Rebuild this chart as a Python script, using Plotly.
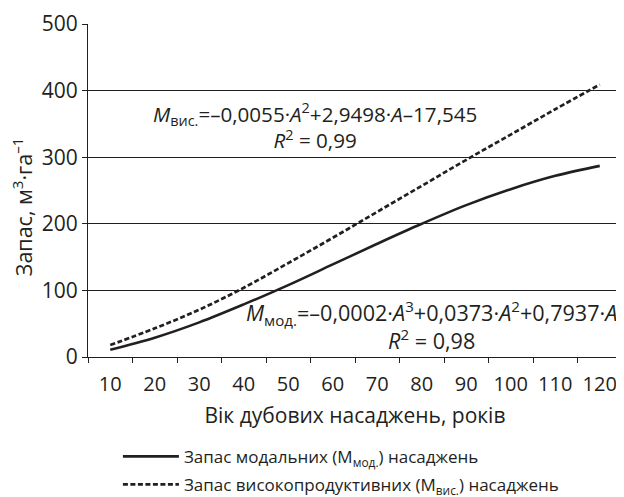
import plotly.graph_objects as go

ages = ["10", "20", "30", "40", "50", "60", "70", "80", "90", "100", "110", "120"]
modal = [11, 29, 52, 79, 108, 139, 170, 200, 228, 252, 272, 287]
high = [18, 43, 71, 104, 141, 179, 218, 257, 296, 334, 372, 409]

name_modal = "Запас модальних (M<sub>мод.</sub>) насаджень"
name_high = "Запас високопродуктивних (M<sub>вис.</sub>) насаджень"
eq_high = "<i>M</i><sub>вис.</sub>=–0,0055·<i>A</i><sup>2</sup>+2,9498·<i>A</i>–17,545<br><i>R</i><sup>2</sup> = 0,99"
eq_modal = "<i>M</i><sub>мод.</sub>=–0,0002·<i>A</i><sup>3</sup>+0,0373·<i>A</i><sup>2</sup>+0,7937·<i>A</i><br><i>R</i><sup>2</sup> = 0,98"
y_title = "Запас, м<sup>3</sup>·га<sup>–1</sup>"
x_title = "Вік дубових насаджень, років"

FONT = "Open Sans"
INK = "#231f20"

fig = go.Figure()
fig.add_trace(go.Scatter(x=ages, y=modal, mode="lines", name=name_modal, legendgroup="a",
                         line=dict(color=INK, width=2.6, shape="spline")))
fig.add_trace(go.Scatter(x=ages, y=high, mode="lines", name=name_high, legendgroup="b",
                         line=dict(color=INK, width=2.7, dash="5px,2.5px", shape="spline")))

fig.add_annotation(x=4.6, y=347, xref="x", yref="y", text=eq_high, showarrow=False,
                   align="center", font=dict(family=FONT, size=20.6, color=INK))
fig.add_annotation(x=7.23, y=48, xref="x", yref="y", text=eq_modal, showarrow=False,
                   align="center", font=dict(family=FONT, size=21.6, color=INK))
fig.add_annotation(x=0, y=225, xref="paper", yref="y", xshift=-66, text=y_title,
                   showarrow=False, textangle=-90, xanchor="center", yanchor="middle",
                   font=dict(family=FONT, size=21.5, color=INK))

# page body adds an 8px offset, so the figure is 8px smaller with margins shifted
fig.update_layout(
    width=616, height=489,
    margin=dict(l=80, r=2, t=16, b=140),
    paper_bgcolor="white", plot_bgcolor="white",
    font=dict(family=FONT, size=18, color=INK),
    showlegend=True,
    legend=dict(x=0.056, y=0.119, xanchor="left", yanchor="top", yref="container",
                font=dict(family=FONT, size=17, color=INK),
                tracegroupgap=3, itemwidth=56, bgcolor="rgba(0,0,0,0)"),
    xaxis=dict(type="category", range=[-0.5, 11.5], tickson="boundaries", ticks="outside",
               ticklen=5, tickcolor=INK, showline=True, linecolor=INK, linewidth=1,
               showgrid=False, tickfont=dict(size=20), automargin=False,
               ticklabelstandoff=9,
               title=dict(text=x_title, font=dict(size=21), standoff=12)),
    yaxis=dict(range=[0, 500], tickvals=[0, 100, 200, 300, 400, 500], ticks="outside",
               ticklen=5, tickcolor=INK, showline=True, linecolor=INK, linewidth=1,
               showgrid=True, gridcolor=INK, gridwidth=1, zeroline=False,
               tickfont=dict(size=21), automargin=False),
)

fig.write_html("out.html")
